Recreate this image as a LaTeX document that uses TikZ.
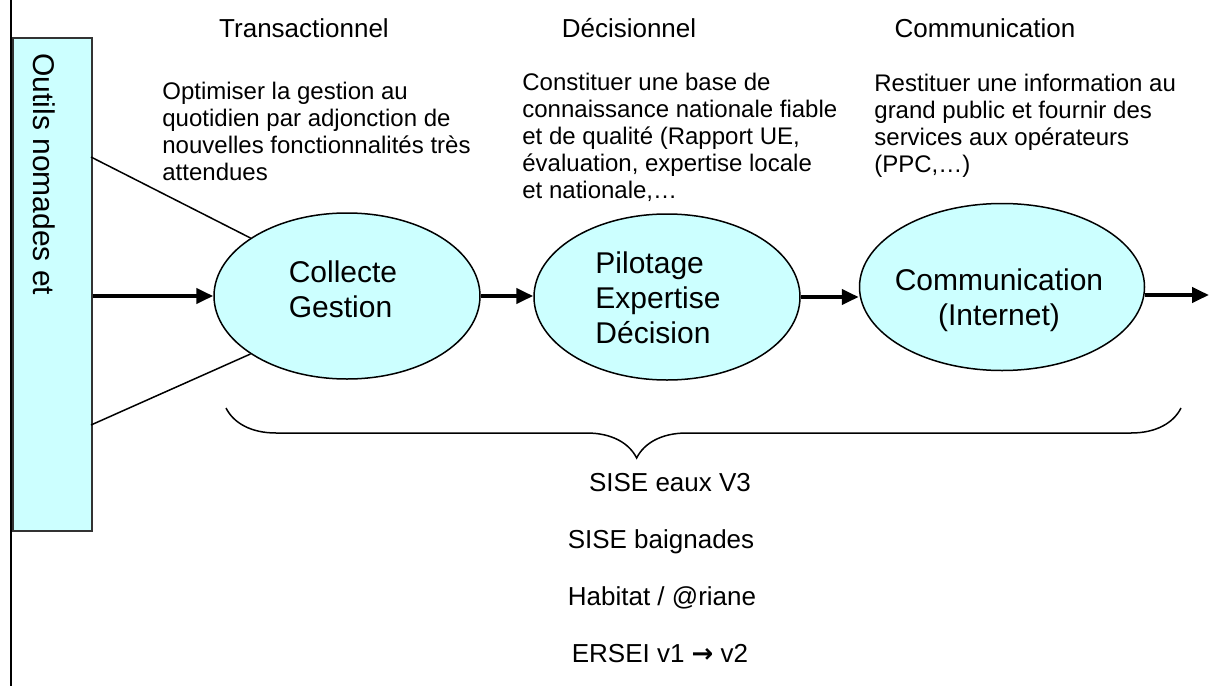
\documentclass[tikz,border=0pt]{standalone}
\usepackage{fontspec}
\setmainfont{Liberation Sans}
\newfontfamily\arrowfont{DejaVu Sans}
\usetikzlibrary{arrows.meta,shapes.geometric,decorations.pathreplacing}
\definecolor{paleCyan}{HTML}{CCFFFF}

\begin{document}
\begin{tikzpicture}[x=0.5pt,y=-0.5pt,
    phase/.style={ellipse,draw,line width=0.75pt,fill=paleCyan,inner sep=0pt,
      minimum width=133pt,minimum height=83pt},
    phasetext/.style={inner sep=0pt,font=\fontsize{15}{17.5}\selectfont},
    flow/.style={line width=2pt,-{Triangle[length=8.5pt,width=7.5pt]}},
    link/.style={line width=0.75pt},
    heading/.style={anchor=base,inner sep=0pt,font=\fontsize{13}{15}\selectfont},
    note/.style={anchor=north west,inner sep=0pt,align=left,
      font=\fontsize{12}{13.5}\selectfont},
    appli/.style={anchor=base,inner sep=0pt,font=\fontsize{13}{15}\selectfont}]
  \useasboundingbox (0,0) rectangle (1211,686);
  % margin rule on the left
  \draw[link] (11,0) -- (11,686);
  % box of the nomadic tools
  \node[draw=black!80,line width=0.75pt,fill=paleCyan,anchor=north west,
    minimum width=39.5pt,minimum height=246.5pt,inner sep=0pt] (nomad) at (12,37) {};
  \node[rotate=-90,anchor=west,inner sep=0pt,font=\fontsize{15}{18}\selectfont]
    (nomadtxt) at (44,53) {Outils nomades et};
  % the three phases
  \node[phase] (collect) at (347,296) {};
  \node[phase] (pilot) at (667,297) {};
  \node[phase,minimum width=142.5pt,minimum height=83.5pt] (comm) at (1002,287) {};
  \node[phasetext,align=left] (collecttxt) at (343,289) {Collecte\\Gestion};
  \node[phasetext,align=left] (pilottxt) at (658,298) {Pilotage\\Expertise\\Décision};
  \node[phasetext,align=center] (commtxt) at (999,300) {Communication\\(Internet)};
  % headings and comments above
  \node[heading] (transac) at (304,37) {Transactionnel};
  \node[heading] (decis) at (629,37) {Décisionnel};
  \node[heading] (commhead) at (985,37) {Communication};
  \node[note] (transacnote) at (162,82) {Optimiser la gestion au\\quotidien par adjonction de\\nouvelles fonctionnalités très\\attendues};
  \node[note] (decisnote) at (522,73) {Constituer une base de\\connaissance nationale fiable\\et de qualité (Rapport UE,\\évaluation, expertise locale\\et nationale,…};
  \node[note] (commnote) at (874,74) {Restituer une information au\\grand public et fournir des\\services aux opérateurs\\(PPC,…)};
  % links from the box
  \coordinate (nomadhi) at (91,157);
  \coordinate (nomadlo) at (91,425);
  \coordinate (beyond) at (1209,295);
  \draw[link] (nomadhi) -- (collect.149);
  \draw[link] (nomadlo) -- (collect.211);
  \draw[flow] (nomad.east |- collect.west) -- (collect.west);
  \draw[flow] (collect.east) -- (collect.east -| pilot.west);
  \draw[flow] (pilot.east) -- (pilot.east -| comm.west);
  \draw[flow] (comm.east |- beyond) -- (beyond);
  % brace over the applications
  \coordinate (bracel) at (226,408);
  \coordinate (bracer) at (1181,408);
  \draw[link,decorate,decoration={brace,mirror,amplitude=25pt,aspect=0.43}]
    (bracel) -- (bracer);
  \node[appli] (sise) at (670,491) {SISE eaux V3};
  \node[appli] (baign) at (661,548) {SISE baignades};
  \node[appli] (habitat) at (662,605) {Habitat / @riane};
  \node[appli] (ersei) at (660,662) {ERSEI v1 {\arrowfont\bfseries →} v2};
\end{tikzpicture}
\end{document}
